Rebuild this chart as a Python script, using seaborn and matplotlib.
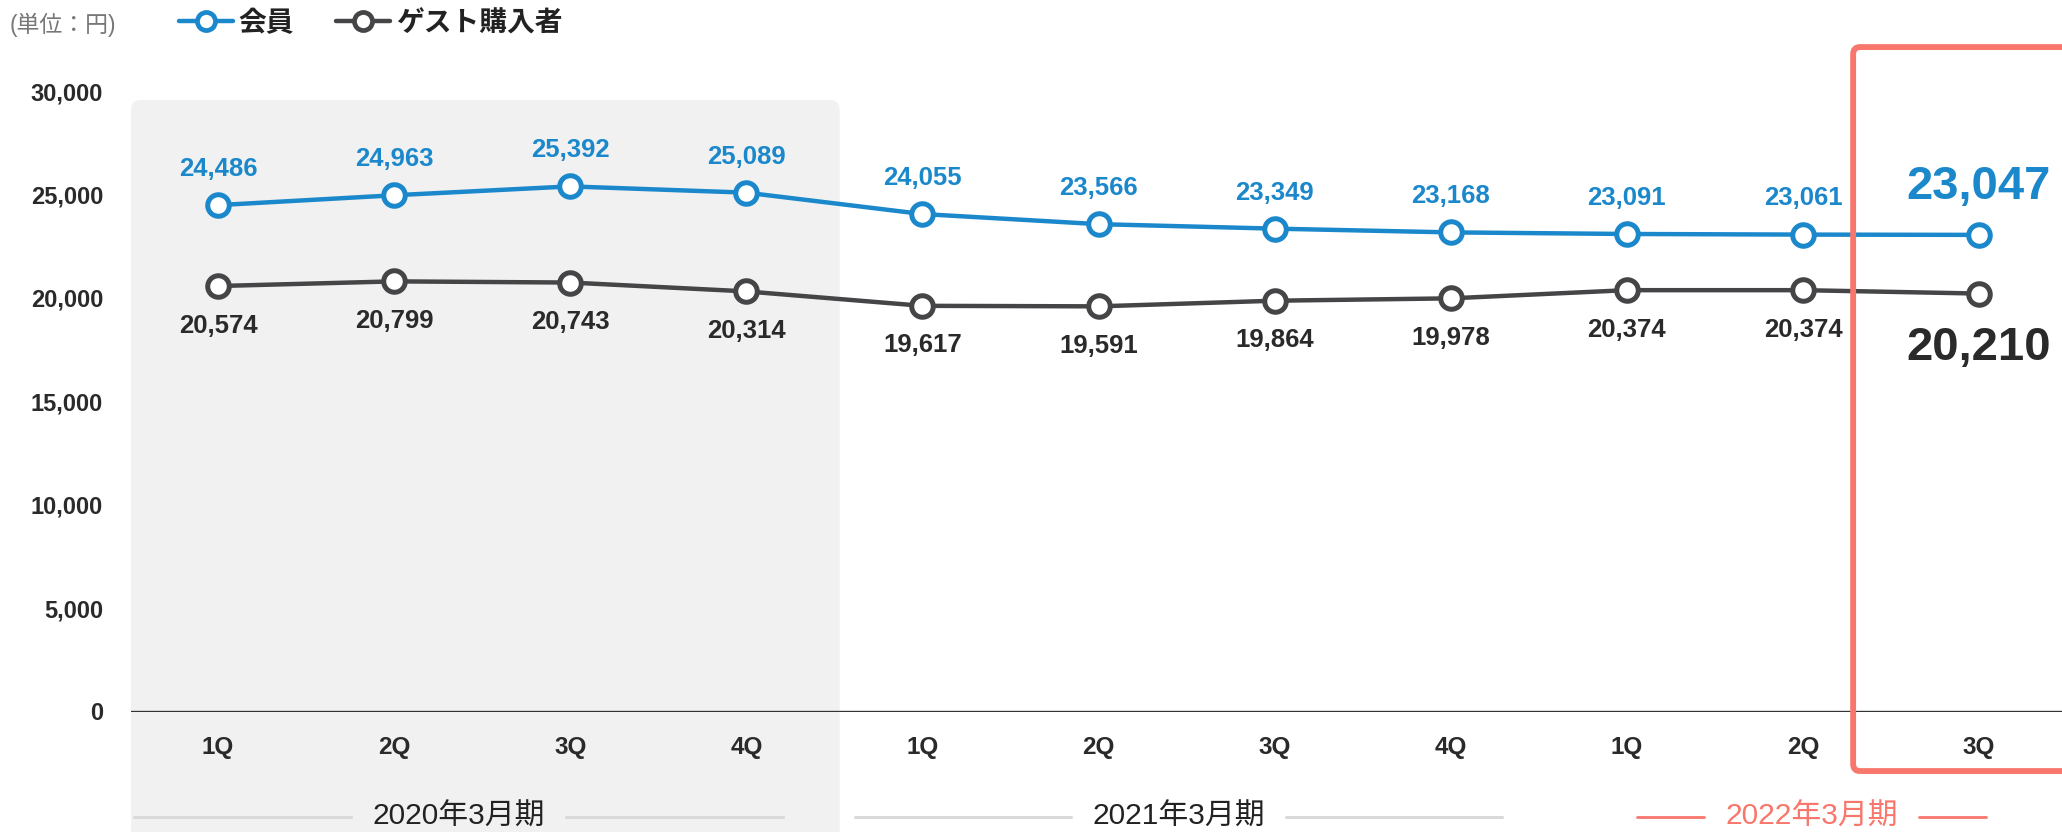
import matplotlib
matplotlib.use("Agg")
import matplotlib.pyplot as plt
from matplotlib.patches import FancyBboxPatch
from matplotlib.lines import Line2D
import seaborn as sns
import pandas as pd

# ---- data -------------------------------------------------------------
quarters = ["1Q", "2Q", "3Q", "4Q", "1Q", "2Q", "3Q", "4Q", "1Q", "2Q", "3Q"]
members = [24486, 24963, 25392, 25089, 24055, 23566, 23349, 23168, 23091, 23061, 23047]
guests = [20574, 20799, 20743, 20314, 19617, 19591, 19864, 19978, 20374, 20374, 20210]
series_names = ["会員", "ゲスト購入者"]
periods = ["2020年3月期", "2021年3月期", "2022年3月期"]
unit_label = "(単位：円)"
yticks = [0, 5000, 10000, 15000, 20000, 25000, 30000]

# ---- style ------------------------------------------------------------
BLUE = "#1b88cb"
DARK = "#454547"
TEXT = "#2a2a2a"
RED = "#f8766b"
SHADE = "#f1f1f1"

sns.set_theme(style="white")
plt.rcParams["font.family"] = ["Liberation Sans", "Noto Sans CJK JP", "DejaVu Sans"]

W, H = 2062, 832
fig = plt.figure(figsize=(W / 100, H / 100), dpi=100)
fig.patch.set_facecolor("white")
ax = fig.add_axes([131 / W, 120.5 / H, (W - 131) / W, 620.4 / H])
ax.set_facecolor("none")

pos = list(range(len(quarters)))
df = pd.DataFrame({
    "pos": pos * 2,
    "value": members + guests,
    "series": [series_names[0]] * len(pos) + [series_names[1]] * len(pos),
})

colors = {series_names[0]: BLUE, series_names[1]: DARK}
for name in series_names:
    sub = df[df["series"] == name]
    sns.lineplot(data=sub, x="pos", y="value", ax=ax, color=colors[name],
                 linewidth=3.2, marker="o", markersize=15.5, markerfacecolor="white",
                 markeredgecolor=colors[name], markeredgewidth=3.6,
                 legend=False, zorder=4)

xmin, xmax = -0.494, 10.471
ax.set_xlim(xmin, xmax)
ax.set_ylim(0, 30000)

# pixel -> data conversions for decorations outside the plotting area
px_x = (xmax - xmin) / (W - 131)      # data x units per pixel
px_y = 30000 / 620.4                  # data y units per pixel

# shaded block behind the first fiscal year
shade = FancyBboxPatch((xmin, -7000), 3.53 - xmin, 29570 + 7000,
                       boxstyle=f"round,pad=0,rounding_size={10 * px_x}",
                       mutation_aspect=px_y / px_x,
                       facecolor=SHADE, edgecolor="none", zorder=0, clip_on=False)
ax.add_patch(shade)

# highlight frame around the latest quarter
frame = FancyBboxPatch((9.285, -2880), 12 - 9.285, 32130 + 2880,
                       boxstyle=f"round,pad=0,rounding_size={7 * px_x}",
                       mutation_aspect=px_y / px_x,
                       facecolor="none", edgecolor=RED, linewidth=4.2,
                       zorder=6, clip_on=False)
ax.add_patch(frame)

# baseline
ax.axhline(0, color="#333333", linewidth=2.4, zorder=3)

# value labels
last = len(pos) - 1
for i, v in enumerate(members):
    big = i == last
    ax.annotate(f"{v:,}", (i, v), xytext=(0, 34.5 if big else 26),
                textcoords="offset points", ha="center", va="center",
                fontsize=34 if big else 18.5, fontweight="bold", color=BLUE,
                zorder=7)
for i, v in enumerate(guests):
    big = i == last
    ax.annotate(f"{v:,}", (i, v), xytext=(0, -39 if big else -28.5),
                textcoords="offset points", ha="center", va="center",
                fontsize=34 if big else 18.5, fontweight="bold", color=TEXT,
                zorder=7)

# axes and ticks
for s in ax.spines.values():
    s.set_visible(False)
ax.set_yticks(yticks)
ax.set_yticklabels([f"{t:,}" for t in yticks])
ax.set_xticks(pos)
ax.set_xticklabels(quarters)
ax.tick_params(axis="y", length=0, pad=20, labelsize=17, labelcolor=TEXT)
ax.tick_params(axis="x", length=0, pad=17.5, labelsize=17.5, labelcolor=TEXT)
for lab in ax.get_xticklabels() + ax.get_yticklabels():
    lab.set_fontweight("bold")
ax.set_xlabel("")
ax.set_ylabel("")
ax.grid(False)

# fiscal-year labels under the quarters
period_spans = [(-0.477, 3.208), (3.62, 7.29), (8.06, 10.04)]
period_colors = ["#222222", "#222222", RED]
rule_colors = ["#d9d9d9", "#d9d9d9", RED]
gap = 0.61
y_rule = -5100
for name, (a, b), tc, rc in zip(periods, period_spans, period_colors, rule_colors):
    mid = (a + b) / 2
    for x0, x1 in [(a, mid - gap), (mid + gap, b)]:
        ax.plot([x0, x1], [y_rule, y_rule], color=rc,
                linewidth=2.2 if rc != RED else 2.0, clip_on=False, zorder=2)
    ax.text(mid, y_rule, name, ha="center", va="center", fontsize=21.5,
            color=tc, clip_on=False, zorder=2)

# unit note and legend
fig.text(10 / W, 1 - 25 / H, unit_label, ha="left", va="center",
         fontsize=16.5, color="#777777")
handles = [Line2D([], [], color=colors[n], linewidth=3.2, marker="o", markersize=13,
                  markerfacecolor="white", markeredgecolor=colors[n],
                  markeredgewidth=3.4) for n in series_names]
leg = fig.legend(handles, series_names, loc="center left",
                 bbox_to_anchor=(179 / W, 1 - 24 / H), ncol=2, frameon=False,
                 handlelength=1.95, handletextpad=0.2, columnspacing=1.5,
                 borderpad=0, borderaxespad=0,
                 prop={"size": 20, "weight": "bold"})
for t in leg.get_texts():
    t.set_color("#222222")

fig.savefig("out.png", dpi=100)
